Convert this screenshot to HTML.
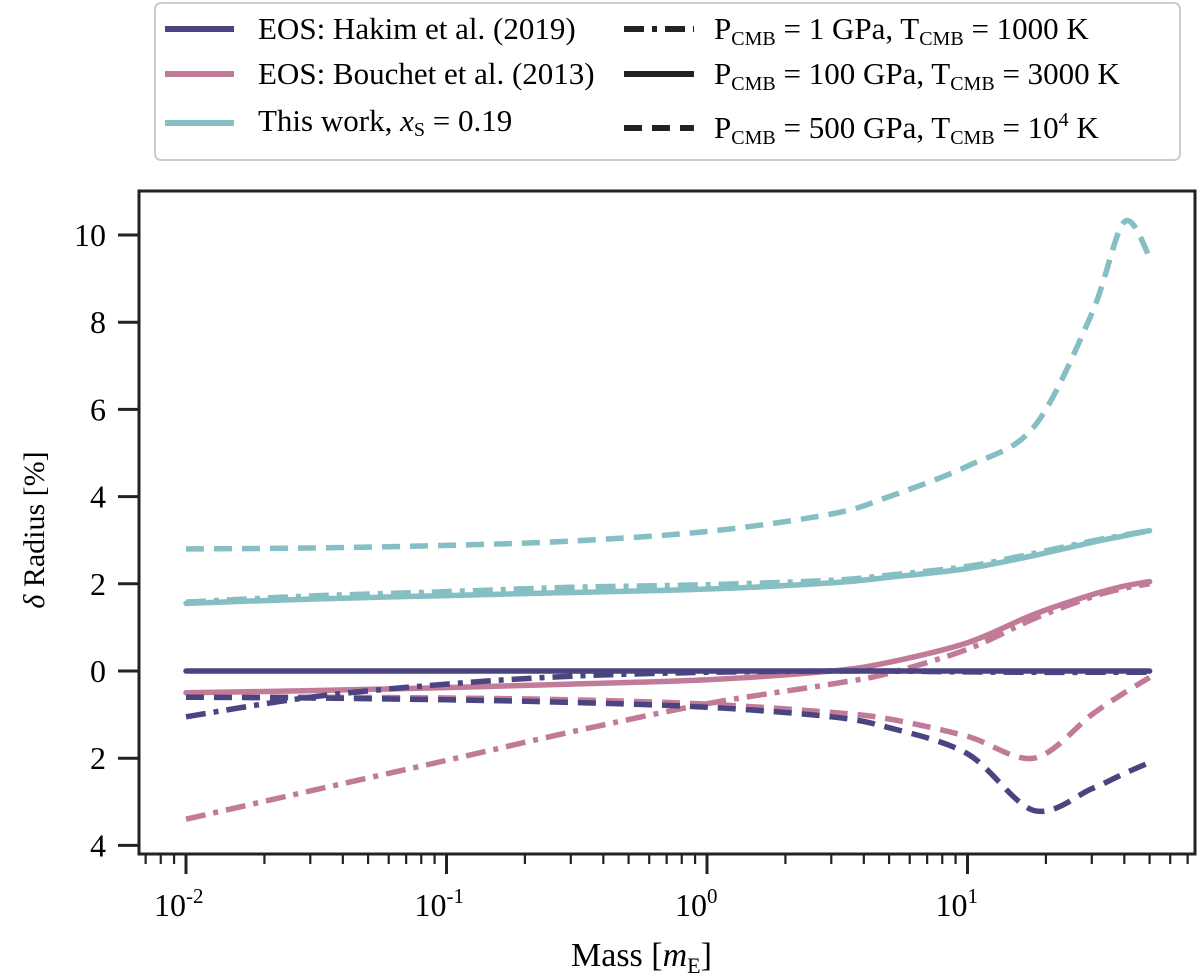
<!DOCTYPE html>
<html><head><meta charset="utf-8">
<style>
body{margin:0;background:#fff;}
svg{display:block;font-family:"Liberation Serif",serif;}
</style></head>
<body>
<svg id="chart" width="1200" height="978">
  <g id="legend">
    <rect x="155" y="3" width="1025" height="157" rx="6" fill="#fff" stroke="#ccc" stroke-width="2"/>
    <line x1="165" y1="29" x2="234" y2="29" stroke="#4a4580" stroke-width="6"/>
    <text x="258" y="39" font-size="31">EOS: Hakim et al. (2019)</text>
    <line x1="165" y1="74" x2="234" y2="74" stroke="#c17b99" stroke-width="6"/>
    <text x="258" y="84" font-size="31">EOS: Bouchet et al. (2013)</text>
    <line x1="165" y1="123" x2="234" y2="123" stroke="#85bec3" stroke-width="6"/>
    <text x="258" y="131" font-size="31">This work, <tspan font-style="italic">x</tspan><tspan font-size="20" dy="5">S</tspan><tspan dy="-5"> = 0.19</tspan></text>
    <line x1="624" y1="29" x2="694" y2="29" stroke="#222" stroke-width="6" stroke-dasharray="20,8,5,8"/>
    <text x="714" y="39" font-size="31">P<tspan font-size="20" dy="6">CMB</tspan><tspan dy="-6"> = 1 GPa, T</tspan><tspan font-size="20" dy="6">CMB</tspan><tspan dy="-6"> = 1000 K</tspan></text>
    <line x1="624" y1="74" x2="694" y2="74" stroke="#222" stroke-width="6"/>
    <text x="714" y="84" font-size="31">P<tspan font-size="20" dy="6">CMB</tspan><tspan dy="-6"> = 100 GPa, T</tspan><tspan font-size="20" dy="6">CMB</tspan><tspan dy="-6"> = 3000 K</tspan></text>
    <line x1="624" y1="128" x2="694" y2="128" stroke="#222" stroke-width="6" stroke-dasharray="18,10"/>
    <text x="714" y="138" font-size="31">P<tspan font-size="20" dy="6">CMB</tspan><tspan dy="-6"> = 500 GPa, T</tspan><tspan font-size="20" dy="6">CMB</tspan><tspan dy="-6"> = 10</tspan><tspan font-size="20" dy="-12">4</tspan><tspan dy="12"> K</tspan></text>
  </g>
  <g id="series"></g>
  <g id="axes"></g>
  <rect x="139" y="191" width="1056" height="663" fill="none" stroke="#222" stroke-width="3"/>
  <text x="0" y="0" font-size="30" transform="translate(44,530) rotate(-90)" text-anchor="middle"><tspan font-style="italic">δ</tspan> Radius [%]</text>
  <text x="571" y="966" font-size="34">Mass [<tspan font-style="italic">m</tspan><tspan font-size="22" dy="7">E</tspan><tspan dy="-7">]</tspan></text>
</svg>
<script>
const masses = [0.01, 0.03, 0.1, 0.3, 1, 3, 5, 10, 18, 30, 40, 50];
const tealDashed   = [2.8, 2.82, 2.88, 2.98, 3.2, 3.6, 4.0, 4.7, 5.6, 8.2, 10.3, 9.5];
const tealSolid    = [1.55, 1.65, 1.73, 1.8, 1.88, 2.02, 2.15, 2.35, 2.65, 2.95, 3.1, 3.22];
const tealDashDot  = [1.58, 1.72, 1.82, 1.92, 1.98, 2.08, 2.2, 2.4, 2.7, 2.98, 3.12, 3.22];
const purpSolid    = [0, 0, 0, 0, 0, 0, 0, 0, 0, 0, 0, 0];
const purpDashDot  = [-1.05, -0.6, -0.3, -0.12, -0.03, 0, 0, -0.02, -0.03, -0.03, -0.03, -0.03];
const purpDashed   = [-0.6, -0.62, -0.66, -0.72, -0.83, -1.05, -1.3, -1.9, -3.2, -2.7, -2.35, -2.1];
const pinkSolid    = [-0.5, -0.45, -0.38, -0.3, -0.2, 0.0, 0.2, 0.65, 1.3, 1.75, 1.95, 2.05];
const pinkDashDot  = [-3.4, -2.75, -2.05, -1.4, -0.75, -0.3, -0.05, 0.5, 1.2, 1.7, 1.9, 2.0];
const pinkDashed   = [-0.6, -0.6, -0.62, -0.66, -0.76, -0.95, -1.1, -1.5, -2.0, -1.0, -0.5, -0.15];
const yTicks = [10, 8, 6, 4, 2, 0, -2, -4];
const yTickLabels = ["10", "8", "6", "4", "2", "0", "2", "4"];
const xDecades = [-2, -1, 0, 1];

function xs(m){ return 707 + 260.5 * Math.log10(m); }
function ys(v){ return 671 - 43.6 * v; }

const NS = "http://www.w3.org/2000/svg";
const sg = document.getElementById('series');
function smoothPath(pts){
  let d = 'M' + pts[0][0].toFixed(1) + ',' + pts[0][1].toFixed(1);
  for (let i=0;i<pts.length-1;i++){
    const p0 = pts[Math.max(0,i-1)], p1 = pts[i], p2 = pts[i+1], p3 = pts[Math.min(pts.length-1,i+2)];
    const t = 0.16;
    const c1x = p1[0] + (p2[0]-p0[0])*t, c1y = p1[1] + (p2[1]-p0[1])*t;
    const c2x = p2[0] - (p3[0]-p1[0])*t, c2y = p2[1] - (p3[1]-p1[1])*t;
    d += ' C' + c1x.toFixed(1)+','+c1y.toFixed(1)+' '+c2x.toFixed(1)+','+c2y.toFixed(1)+' '+p2[0].toFixed(1)+','+p2[1].toFixed(1);
  }
  return d;
}
function addLine(vals, color, dash, name){
  const p = document.createElementNS(NS, 'path');
  p.setAttribute('d', smoothPath(masses.map((m,i)=>[xs(m), ys(vals[i])])));
  p.setAttribute('fill','none');
  p.setAttribute('stroke',color);
  p.setAttribute('stroke-width','5.5');
  p.setAttribute('stroke-linejoin','round');
  p.setAttribute('stroke-linecap', dash ? 'butt' : 'round');
  if (dash) p.setAttribute('stroke-dasharray', dash);
  
  
  sg.appendChild(p);
}
const DD = "20,8,5,8", DS = "18,10";
addLine(tealDashed, '#85bec3', DS, 'teal-dashed-line');
addLine(tealSolid, '#85bec3', null, 'teal-solid-line');
addLine(tealDashDot, '#85bec3', DD, 'teal-dashdot-line');
addLine(pinkSolid, '#c17b99', null, 'pink-solid-line');
addLine(pinkDashDot, '#c17b99', DD, 'pink-dashdot-line');
addLine(pinkDashed, '#c17b99', DS, 'pink-dashed-line');
addLine(purpSolid, '#4a4580', null, 'purple-solid-line');
addLine(purpDashDot, '#4a4580', DD, 'purple-dashdot-line');
addLine(purpDashed, '#4a4580', DS, 'purple-dashed-line');

const ag = document.getElementById('axes');
function mk(tag, attrs){ const e=document.createElementNS(NS,tag); for(const k in attrs) e.setAttribute(k,attrs[k]); ag.appendChild(e); return e; }
yTicks.forEach((v,i)=>{
  const y = ys(v);
  const t = mk('line',{x1:118,x2:139,y1:y,y2:y,stroke:'#222','stroke-width':3});
  
  
  const l = mk('text',{x:106,y:y+11,'font-size':32,'text-anchor':'end'});
  l.textContent = yTickLabels[i];
  
  
});
for (let d=-3; d<=2; d++){
  for (let k=1; k<10; k++){
    const m = k*Math.pow(10,d);
    const x = xs(m);
    if (x < 140 || x > 1194) continue;
    const major = k===1;
    const t = mk('line',{x1:x,x2:x,y1:854,y2:major?874:864,stroke:'#222','stroke-width':major?3:2.2});
    
    
  }
}
xDecades.forEach(d=>{
  const x = xs(Math.pow(10,d));
  const l = mk('text',{x:x-32,y:916,'font-size':32});
  l.innerHTML = '10<tspan font-size="21" dy="-13">'+d+'</tspan>';
  
  
});
</script>
</body></html>
